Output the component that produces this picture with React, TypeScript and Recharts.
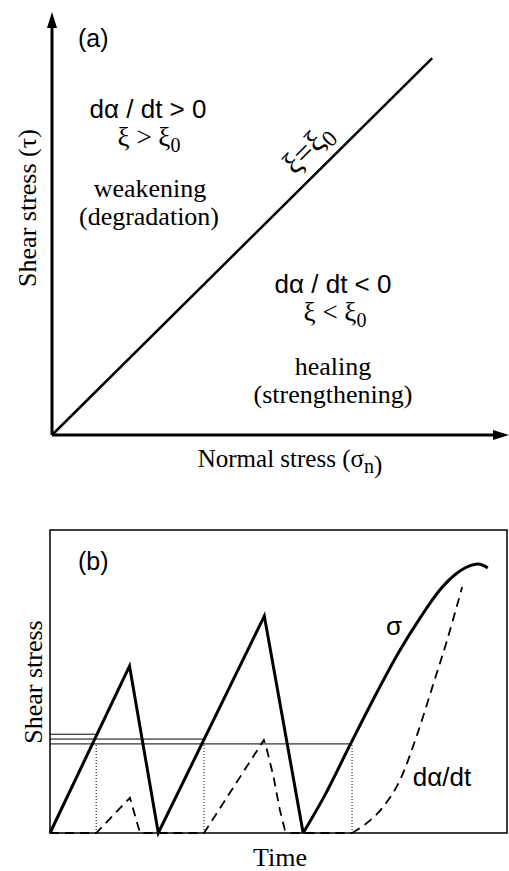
import React from 'react';
import { LineChart, Line, XAxis, YAxis, ReferenceLine, ReferenceDot, ReferenceArea } from 'recharts';

// (a) failure envelope xi = xi0 in normal / shear stress space
const envelope = [
  { sn: 0, tau: 0 },
  { sn: 83.2, tau: 89.1 },
];

// (b) shear stress history: stick-slip part, then the last loading curve
const stressSaw = [
  { t: 0, s: 0 },
  { t: 17.4, s: 55.1 },
  { t: 23.7, s: 0 },
  { t: 46.9, s: 71.6 },
  { t: 55.4, s: 0 },
];
const stressRise = [
  { t: 55.4, s: 0 },
  { t: 59.8, s: 11.5 },
  { t: 65.6, s: 28.9 },
  { t: 70.7, s: 44.0 },
  { t: 76.6, s: 60.4 },
  { t: 81.0, s: 71.0 },
  { t: 85.3, s: 80.2 },
  { t: 89.1, s: 85.8 },
  { t: 92.3, s: 88.4 },
  { t: 93.7, s: 88.8 },
  { t: 95.8, s: 87.5 },
];

// damage rate d(alpha)/dt
const rateSaw = [
  { t: 0, r: 0 },
  { t: 10.1, r: 0 },
  { t: 17.5, r: 11.6 },
  { t: 19.7, r: 0 },
  { t: 33.7, r: 0 },
  { t: 46.8, r: 30.7 },
  { t: 47.3, r: 28.5 },
  { t: 48.9, r: 18.6 },
  { t: 50.3, r: 7.6 },
  { t: 51.4, r: 1.0 },
  { t: 52.5, r: 0 },
  { t: 66.1, r: 0 },
];
const rateRise = [
  { t: 66.1, r: 0 },
  { t: 69.1, r: 3.0 },
  { t: 72.9, r: 8.6 },
  { t: 76.6, r: 17.5 },
  { t: 80.3, r: 32.3 },
  { t: 83.8, r: 48.8 },
  { t: 86.9, r: 63.7 },
  { t: 90.2, r: 81.2 },
];

// stress thresholds (xi = xi0) and the times they are reached
const thresholdLevels = [32.6, 31.0, 29.4];
const thresholdEnds = [10.3, 33.7, 65.8];
const onsetTimes = [10.1, 33.7, 66.1];

const SANS = '"Liberation Sans", Arial, sans-serif';
const SERIF = '"Liberation Serif", "Times New Roman", serif';

const ArrowRight = (props: any) => {
  const { cx, cy } = props;
  return <polygon points={`${cx},${cy} ${cx - 16},${cy - 5} ${cx - 16},${cy + 5}`} fill="#000" />;
};

const ArrowUp = (props: any) => {
  const { cx, cy } = props;
  return <polygon points={`${cx},${cy} ${cx - 5},${cy + 16} ${cx + 5},${cy + 16}`} fill="#000" />;
};

const Sub = ({ children, size = 20 }: { children: React.ReactNode; size?: number }) => (
  <tspan fontSize={size} dy={6}>{children}</tspan>
);

export default function App() {
  return (
    <div style={{ position: 'absolute', left: 0, top: 0, width: 509, height: 871, background: '#fff' }}>
      <div style={{ position: 'absolute', left: 0, top: 0 }}>
        <LineChart width={509} height={470} margin={{ top: 12, right: 0, bottom: 35, left: 52 }}>
          <XAxis hide type="number" dataKey="sn" domain={[0, 100]} />
          <YAxis hide type="number" domain={[0, 100]} />
          <ReferenceLine segment={[{ x: 0, y: 0 }, { x: 97, y: 0 }]} stroke="#000" strokeWidth={3} />
          <ReferenceLine segment={[{ x: 0, y: 0 }, { x: 0, y: 97 }]} stroke="#000" strokeWidth={3} />
          <ReferenceDot x={100} y={0} r={1} shape={ArrowRight} />
          <ReferenceDot x={0} y={100} r={1} shape={ArrowUp} />
          <Line
            data={envelope}
            dataKey="tau"
            type="linear"
            stroke="#000"
            strokeWidth={2.5}
            dot={false}
            isAnimationActive={false}
          />
        </LineChart>
      </div>

      <div style={{ position: 'absolute', left: 0, top: 470 }}>
        <LineChart width={509} height={401} margin={{ top: 60, right: 2, bottom: 38, left: 50 }}>
          <XAxis hide type="number" dataKey="t" domain={[0, 100]} />
          <YAxis hide type="number" domain={[0, 100]} />
          <ReferenceArea x1={0} x2={100} y1={0} y2={100} fill="none" fillOpacity={0} stroke="#000" strokeWidth={1.5} />
          {thresholdLevels.map((lv, i) => (
            <ReferenceLine
              key={`h${i}`}
              segment={[{ x: 0, y: lv }, { x: thresholdEnds[i], y: lv }]}
              stroke="#000"
              strokeWidth={1}
            />
          ))}
          {onsetTimes.map((tt, i) => (
            <ReferenceLine
              key={`v${i}`}
              segment={[{ x: tt, y: 0 }, { x: tt, y: thresholdLevels[2] }]}
              stroke="#000"
              strokeWidth={1}
              strokeDasharray="1 2"
            />
          ))}
          <Line data={rateSaw} dataKey="r" type="linear" stroke="#000" strokeWidth={1.8}
            strokeDasharray="9 6" dot={false} isAnimationActive={false} />
          <Line data={rateRise} dataKey="r" type="monotone" stroke="#000" strokeWidth={1.8}
            strokeDasharray="9 6" dot={false} isAnimationActive={false} />
          <Line data={stressSaw} dataKey="s" type="linear" stroke="#000" strokeWidth={3}
            dot={false} isAnimationActive={false} />
          <Line data={stressRise} dataKey="s" type="monotone" stroke="#000" strokeWidth={3}
            dot={false} isAnimationActive={false} />
        </LineChart>
      </div>

      <svg width={509} height={871} style={{ position: 'absolute', left: 0, top: 0, pointerEvents: 'none' }}>
        <g fill="#000">
          <text x={78} y={47} fontFamily={SANS} fontSize={25}>(a)</text>
          <text x={148} y={118} fontFamily={SANS} fontSize={26} textAnchor="middle">dα / dt &gt; 0</text>
          <text x={149} y={146} fontFamily={SERIF} fontSize={27} textAnchor="middle">ξ &gt; ξ<Sub>0</Sub></text>
          <text x={150} y={197} fontFamily={SERIF} fontSize={26} textAnchor="middle">weakening</text>
          <text x={149} y={225} fontFamily={SERIF} fontSize={26} textAnchor="middle">(degradation)</text>
          <text x={309} y={158} fontFamily={SERIF} fontSize={31} textAnchor="middle" transform="rotate(-45 309 150)">ξ=ξ<Sub size={23}>0</Sub></text>
          <text x={333} y={293} fontFamily={SANS} fontSize={26} textAnchor="middle">dα / dt &lt; 0</text>
          <text x={335} y={321} fontFamily={SERIF} fontSize={27} textAnchor="middle">ξ &lt; ξ<Sub>0</Sub></text>
          <text x={333} y={375} fontFamily={SERIF} fontSize={26} textAnchor="middle">healing</text>
          <text x={333} y={403} fontFamily={SERIF} fontSize={26} textAnchor="middle">(strengthening)</text>
          <text x={36} y={208} fontFamily={SERIF} fontSize={26} textAnchor="middle" transform="rotate(-90 36 208)">Shear stress  (τ)</text>
          <text x={290} y={467} fontFamily={SERIF} fontSize={25} textAnchor="middle">Normal stress (σ<Sub size={20}>n</Sub>)</text>

          <text x={78} y={570} fontFamily={SANS} fontSize={25}>(b)</text>
          <text x={42} y={682} fontFamily={SERIF} fontSize={26} textAnchor="middle" transform="rotate(-90 42 682)">Shear stress</text>
          <text x={280} y={866} fontFamily={SERIF} fontSize={26} textAnchor="middle">Time</text>
          <text x={394} y={635} fontFamily={SANS} fontSize={26} textAnchor="middle">σ</text>
          <text x={442} y={786} fontFamily={SANS} fontSize={26} textAnchor="middle">dα/dt</text>
        </g>
      </svg>
    </div>
  );
}
